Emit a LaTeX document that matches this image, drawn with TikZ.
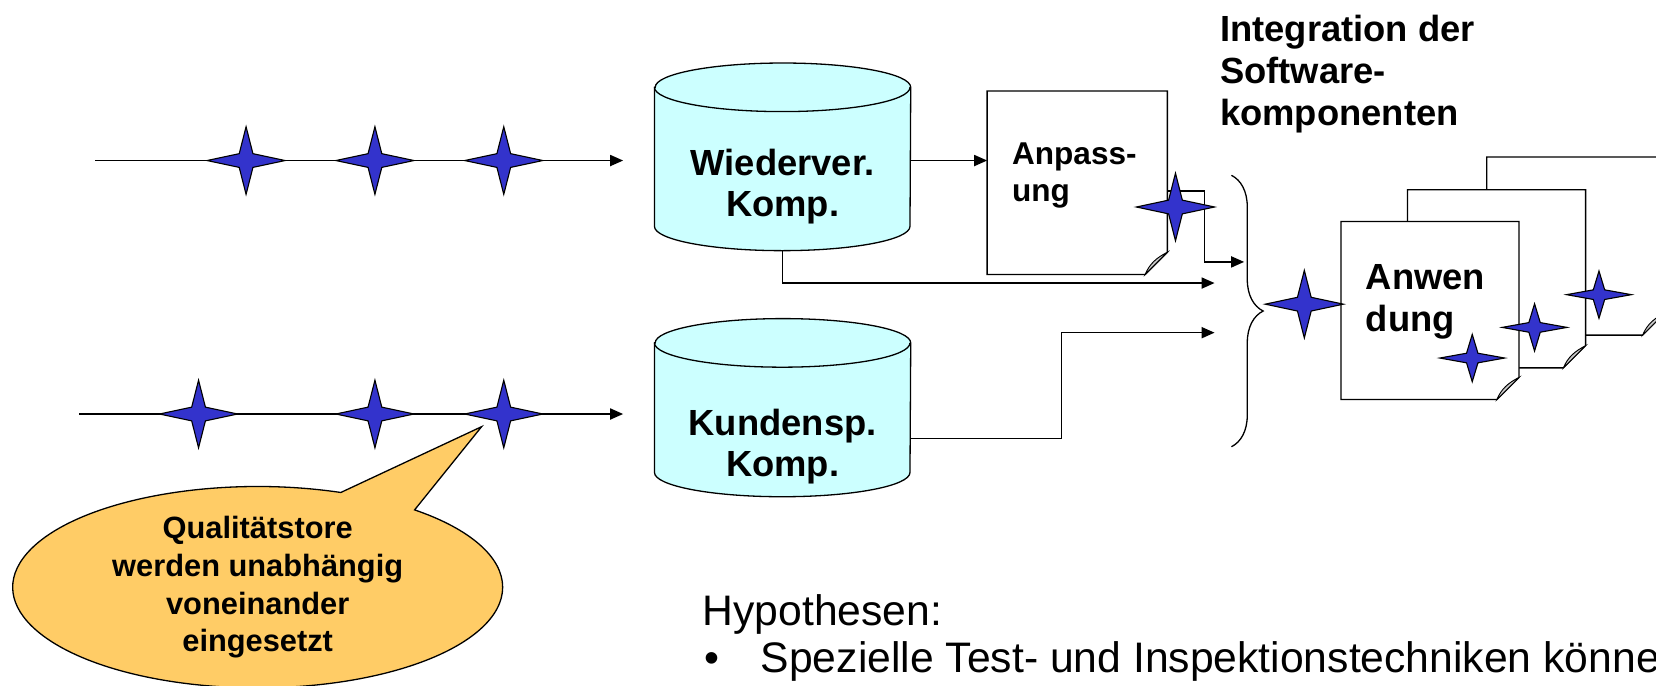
\documentclass[tikz,border=0pt]{standalone}
\usepackage{fontspec}
\setmainfont{Liberation Sans}
\usetikzlibrary{arrows.meta,shapes.callouts,decorations.pathreplacing,backgrounds,calc}
\definecolor{gatefill}{HTML}{3333CC}
\definecolor{compfill}{HTML}{CCFFFF}
\definecolor{notefill}{HTML}{FFCC66}
\definecolor{foldfill}{HTML}{C8C8C8}
\tikzset{
  flow/.style={line width=0.8pt, -{Triangle[length=7pt,width=6pt]}},
  comp/.style={minimum width=4.84cm, minimum height=3.54cm, inner sep=0pt},
  compname/.style={font=\fontsize{19.6}{22}\selectfont\bfseries, align=center, inner sep=0pt},
  page/.style={minimum width=3.36cm, minimum height=3.36cm, inner sep=0pt},
  qgate/.pic={\filldraw[fill=gatefill, line width=0.6pt] (-37,0) -- (-6.5,-6.5) -- (0,-32) -- (6.5,-6.5) -- (37,0) -- (6.5,6.5) -- (0,32) -- (-6.5,6.5) -- cycle;},
}
\begin{document}
\begin{tikzpicture}[x=0.02cm, y=-0.02cm]
\useasboundingbox (0,0) rectangle (1568,649);
\clip (0,0) rectangle (1568,649);

% Folded page, drawn behind its node
\def\fold{21}
\def\pagebox#1{%
\begin{scope}[on background layer]
\filldraw[fill=white, line width=0.7pt] (#1.north west) -- (#1.north east) -- ($(#1.south east)+(0,-\fold)$) -- ($(#1.south east)+(-\fold,0)$) -- (#1.south west) -- cycle;
\filldraw[fill=foldfill, line width=0.5pt] ($(#1.south east)+(0,-\fold)$) -- ($(#1.south east)+(-\fold,0)$) .. controls ($(#1.south east)+(-17,-10)$) and ($(#1.south east)+(-10,-16)$) .. cycle;
\end{scope}}
% Drum for a component store
\def\drum#1{%
\filldraw[fill=compfill, line width=0.7pt] ($(#1.north west)+(0,23)$) -- ($(#1.south west)+(0,-23)$) arc[start angle=180, end angle=360, x radius=2.42cm, y radius=0.46cm] -- ($(#1.north east)+(0,23)$) arc[start angle=0, end angle=180, x radius=2.42cm, y radius=0.46cm] -- cycle;
\draw[line width=0.7pt] ($(#1.north west)+(0,23)$) arc[start angle=180, end angle=360, x radius=2.42cm, y radius=0.46cm];}

% Lines with quality gates
\coordinate (in1) at (90,152);
\coordinate (out1) at (590,152);
\coordinate (in2) at (75,392);
\coordinate (out2) at (590,392);
\draw[flow] (in1) -- (out1);
\draw[flow] (in2) -- (out2);
\foreach \gx in {233,355,477} \pic at (\gx,152) {qgate};
\foreach \gx in {188,355,477} \pic at (\gx,392) {qgate};

% Components
\node[comp] (wv) at (741,148.5) {};
\drum{wv}
\node[compname] (wvt) at (741,177) {Wiederver.\\Komp.};
\node[comp, minimum height=3.36cm] (ks) at (741,386) {};
\drum{ks}
\node[compname] (kst) at (741,423) {Kundensp.\\Komp.};

\node[page, minimum width=3.4cm, minimum height=3.46cm] (anp) at (1020,173) {};
\pagebox{anp}
\node[anchor=north west, inner sep=0pt, font=\fontsize{17}{19.8}\selectfont\bfseries, align=left] (anpt) at (958,135) {Anpass-\\ung};

\node[page] (aw3) at (1492,233) {};
\node[page] (aw2) at (1417,264) {};
\node[page] (aw1) at (1354,294) {};
\pagebox{aw3}
\pagebox{aw2}
\pagebox{aw1}
\node[anchor=north west, inner sep=0pt, font=\fontsize{19.6}{22.5}\selectfont\bfseries, align=left] (awt) at (1293,250) {Anwen\\dung};

\node[anchor=north west, inner sep=0pt, font=\fontsize{19.6}{22.7}\selectfont\bfseries, align=left] (integ) at (1155,14) {Integration der\\Software-\\komponenten};

% Connectors to the integration
\coordinate (j1) at (1178,248);
\coordinate (j2) at (1150,268);
\coordinate (j3) at (1150,315);
\draw[flow] (wv.east |- 0,152) -- (anp.west |- 0,152);
\draw[flow] (wv.south) |- (j2);
\draw[flow] (anp.east |- 0,181) -- ++(35,0) |- (j1);
\draw[flow] (ks.east |- 0,415) -| (1005,365) |- (j3);
\draw[line width=0.7pt, decorate, decoration={brace, amplitude=0.6cm}] (1166,166) -- (1166,423);

\pic at (1113,196) {qgate};
\pic at (1235,288) {qgate};
\pic[xscale=0.83, yscale=0.7] at (1394,339) {qgate};
\pic[xscale=0.83, yscale=0.7] at (1453,310) {qgate};
\pic[xscale=0.83, yscale=0.7] at (1514,279) {qgate};

\node[ellipse callout, draw, line width=0.7pt, fill=notefill, inner sep=0pt, minimum width=9.28cm, minimum height=3.68cm, callout absolute pointer={(456,404)}, callout pointer arc=20, font=\fontsize{16.6}{20.4}\selectfont\bfseries, align=center] (qual) at (244,556) {Qualitätstore\\werden unabhängig\\voneinander\\eingesetzt};

\node[anchor=base west, inner sep=0pt, font=\fontsize{23}{27}\selectfont] (hyp) at (665,592) {Hypothesen:};
\node[anchor=base west, inner sep=0pt, font=\fontsize{23}{27}\selectfont] (dot) at (667,637) {\textbullet};
\node[anchor=base west, inner sep=0pt, font=\fontsize{23}{27}\selectfont] (hyp1) at (720,637) {Spezielle Test- und Inspektionstechniken können};
\end{tikzpicture}
\end{document}
